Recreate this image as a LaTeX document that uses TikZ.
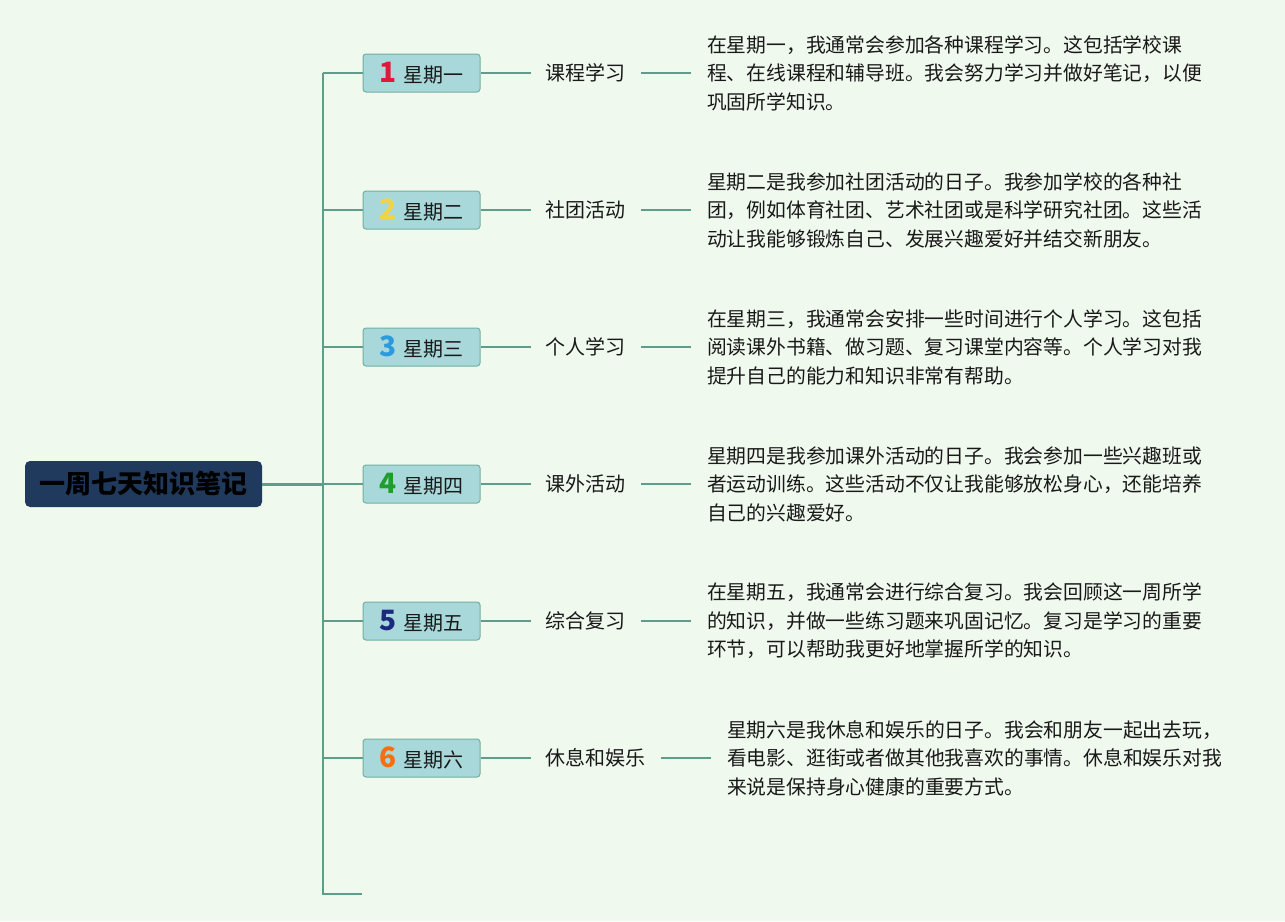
\documentclass[tikz,border=0pt]{standalone}
\usepackage{fontspec}
\setmainfont{Noto Sans CJK SC}
\usetikzlibrary{positioning}

\definecolor{bgmint}{HTML}{F0F9EE}
\definecolor{stem}{HTML}{5E9C8C}
\definecolor{dayfill}{HTML}{A8D8DA}
\definecolor{dayline}{HTML}{72B0A2}
\definecolor{rootfill}{HTML}{1F3A5C}
\definecolor{numA}{HTML}{E0193A}
\definecolor{numB}{HTML}{F2D443}
\definecolor{numC}{HTML}{2A9BDD}
\definecolor{numD}{HTML}{1F9E2E}
\definecolor{numE}{HTML}{1B2A7E}
\definecolor{numF}{HTML}{F76E0E}

\newcommand{\daynum}[2]{{\fontsize{28}{28}\selectfont\bfseries\color{#1}#2}\hspace{7pt}}

\tikzset{
  root/.style={fill=rootfill, rounded corners=5pt, minimum width=237pt,
    minimum height=46pt, font=\fontsize{26}{26}\selectfont\bfseries, text=black},
  day/.style={fill=dayfill, draw=dayline, line width=1pt, rounded corners=3pt,
    minimum width=117pt, minimum height=38pt, inner sep=0pt,
    font=\fontsize{20}{20}\selectfont},
  topic/.style={inner xsep=15pt, inner ysep=4pt, font=\fontsize{20}{20}\selectfont},
  note/.style={inner xsep=16pt, inner ysep=0pt, align=left,
    font=\fontsize{19.8}{28.5}\selectfont},
  branch/.style={draw=stem, line width=2pt},
  twig/.style={draw=stem, line width=1.6pt}
}

\begin{document}
\begin{tikzpicture}[x=1pt,y=-1pt,node distance=50pt,text=black!90]
    \fill[bgmint] (0,0) rectangle (1285,921);
    \useasboundingbox (0,0) rectangle (1285,921);

    % centre topic and the trunk
    \node[root] (root) at (143.5,484) {一周七天知识笔记};
    \coordinate (top) at (323,73);
    \coordinate (bot) at (323,894);
    \coordinate (stub) at (362,894);

    % one row per day
    \node[day] (d1) at (421.5,73)  {\daynum{numA}{1}星期一};
    \node[day] (d2) at (421.5,210) {\daynum{numB}{2}星期二};
    \node[day] (d3) at (421.5,347) {\daynum{numC}{3}星期三};
    \node[day] (d4) at (421.5,484) {\daynum{numD}{4}星期四};
    \node[day] (d5) at (421.5,621) {\daynum{numE}{5}星期五};
    \node[day] (d6) at (421.5,758) {\daynum{numF}{6}星期六};

    \node[topic] (t1) [right=of d1] {课程学习};
    \node[topic] (t2) [right=of d2] {社团活动};
    \node[topic] (t3) [right=of d3] {个人学习};
    \node[topic] (t4) [right=of d4] {课外活动};
    \node[topic] (t5) [right=of d5] {综合复习};
    \node[topic] (t6) [right=of d6] {休息和娱乐};

    \node[note] (n1) [right=of t1] {在星期一，我通常会参加各种课程学习。这包括学校课\\
      程、在线课程和辅导班。我会努力学习并做好笔记，以便\\巩固所学知识。};
    \node[note] (n2) [right=of t2] {星期二是我参加社团活动的日子。我参加学校的各种社\\
      团，例如体育社团、艺术社团或是科学研究社团。这些活\\动让我能够锻炼自己、发展兴趣爱好并结交新朋友。};
    \node[note] (n3) [right=of t3] {在星期三，我通常会安排一些时间进行个人学习。这包括\\
      阅读课外书籍、做习题、复习课堂内容等。个人学习对我\\提升自己的能力和知识非常有帮助。};
    \node[note] (n4) [right=of t4] {星期四是我参加课外活动的日子。我会参加一些兴趣班或\\
      者运动训练。这些活动不仅让我能够放松身心，还能培养\\自己的兴趣爱好。};
    \node[note] (n5) [right=of t5] {在星期五，我通常会进行综合复习。我会回顾这一周所学\\
      的知识，并做一些练习题来巩固记忆。复习是学习的重要\\环节，可以帮助我更好地掌握所学的知识。};
    \node[note] (n6) [right=of t6] {星期六是我休息和娱乐的日子。我会和朋友一起出去玩，\\
      看电影、逛街或者做其他我喜欢的事情。休息和娱乐对我\\来说是保持身心健康的重要方式。};

    % connectors
    \draw[branch, line width=3pt] (root.east) -- (root -| top);
    \draw[branch] (top) -- (bot) -- (stub);
    \draw[branch] (d1.west) -- (d1 -| top);
    \draw[branch] (d2.west) -- (d2 -| top);
    \draw[branch] (d3.west) -- (d3 -| top);
    \draw[branch] (d4.west) -- (d4 -| top);
    \draw[branch] (d5.west) -- (d5 -| top);
    \draw[branch] (d6.west) -- (d6 -| top);
    \path[twig]
    (d1) edge (t1) (t1) edge (n1)
    (d2) edge (t2) (t2) edge (n2)
    (d3) edge (t3) (t3) edge (n3)
    (d4) edge (t4) (t4) edge (n4)
    (d5) edge (t5) (t5) edge (n5)
    (d6) edge (t6) (t6) edge (n6);
\end{tikzpicture}
\end{document}
